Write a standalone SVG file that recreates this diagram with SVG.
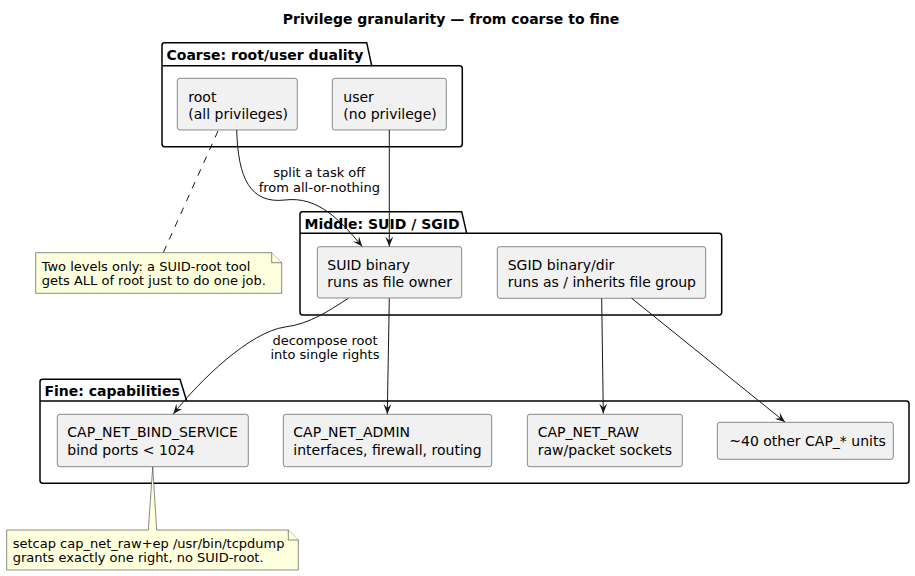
<svg xmlns="http://www.w3.org/2000/svg" width="915" height="576" viewBox="0 0 915 576">
<defs>
<style>
text{font-family:"DejaVu Sans","Liberation Sans",sans-serif;fill:#000}
.title{font-size:14px;font-weight:bold}
.pkg{fill:none;stroke:#000;stroke-width:1.5}
.pkgt{font-size:14px;font-weight:bold}
.node{fill:#F1F1F1;stroke:#181818;stroke-width:0.5}
.nt{font-size:14px}
.note{fill:#FEFFDD;stroke:#181818;stroke-width:0.5}
.ntx{font-size:13px}
.lbl{font-size:13px;text-anchor:middle}
.edge{fill:none;stroke:#181818;stroke-width:1}
</style>
<marker id="ah" viewBox="0 0 10 8" refX="10" refY="4" markerWidth="10" markerHeight="8" markerUnits="userSpaceOnUse" orient="auto">
<path d="M0,0 L10,4 L0,8 L4,4 Z" fill="#181818"/>
</marker>
</defs>
<rect width="915" height="576" fill="#fff"/>
<text class="title" x="451" y="24" text-anchor="middle">Privilege granularity — from coarse to fine</text>

<g id="pkg-coarse">
<path class="pkg" d="M164.5,42.7 L366.7,42.7 L371.7,65.7 L459.5,65.7 Q462.3,65.7 462.3,68.5 L462.3,144 Q462.3,146.7 459.5,146.7 L164.7,146.7 Q162,146.7 162,144 L162,45.2 Q162,42.7 164.5,42.7 Z"/>
<line class="pkg" x1="162" y1="65.7" x2="371.7" y2="65.7"/>
<text class="pkgt" x="166.5" y="59.5">Coarse: root/user duality</text>
</g>
<g id="pkg-middle">
<path class="pkg" d="M302.5,211.7 L461.7,211.7 L466.7,233.3 L719,233.3 Q721.7,233.3 721.7,236 L721.7,312.3 Q721.7,315 719,315 L302.7,315 Q300,315 300,312.3 L300,214.2 Q300,211.7 302.5,211.7 Z"/>
<line class="pkg" x1="300" y1="233.3" x2="466.7" y2="233.3"/>
<text class="pkgt" x="304.5" y="228.5">Middle: SUID / SGID</text>
</g>
<g id="pkg-fine">
<path class="pkg" d="M42.5,379.3 L180,379.3 L186.7,401 L906.3,401 Q909,401 909,403.7 L909,480.6 Q909,483.3 906.3,483.3 L42.7,483.3 Q40,483.3 40,480.6 L40,381.8 Q40,379.3 42.5,379.3 Z"/>
<line class="pkg" x1="40" y1="401" x2="186.7" y2="401"/>
<text class="pkgt" x="44.5" y="396.2">Fine: capabilities</text>
</g>

<g id="root">
<rect class="node" x="177.3" y="78.3" width="120" height="51.7" rx="2.5"/>
<text class="nt" x="188.3" y="101.5">root</text>
<text class="nt" x="188.3" y="118.5">(all privileges)</text>
</g>
<g id="user">
<rect class="node" x="332.3" y="78.3" width="114" height="51.7" rx="2.5"/>
<text class="nt" x="343.3" y="101.5">user</text>
<text class="nt" x="343.3" y="118.5">(no privilege)</text>
</g>
<g id="suid">
<rect class="node" x="317.3" y="246.7" width="144.4" height="51.3" rx="2.5"/>
<text class="nt" x="327.3" y="270">SUID binary</text>
<text class="nt" x="327.3" y="287">runs as file owner</text>
</g>
<g id="sgid">
<rect class="node" x="497.3" y="246.7" width="208.4" height="51.6" rx="2.5"/>
<text class="nt" x="507.7" y="270">SGID binary/dir</text>
<text class="nt" x="507.7" y="287">runs as / inherits file group</text>
</g>
<g id="cap-bind">
<rect class="node" x="57.3" y="414.3" width="191" height="52.4" rx="2.5"/>
<text class="nt" x="67.3" y="437">CAP_NET_BIND_SERVICE</text>
<text class="nt" x="67.3" y="454.5">bind ports &lt; 1024</text>
</g>
<g id="cap-admin">
<rect class="node" x="283.3" y="414.3" width="208.4" height="52.4" rx="2.5"/>
<text class="nt" x="293.3" y="437">CAP_NET_ADMIN</text>
<text class="nt" x="293.3" y="454.5">interfaces, firewall, routing</text>
</g>
<g id="cap-raw">
<rect class="node" x="527.3" y="414.3" width="155" height="52.4" rx="2.5"/>
<text class="nt" x="537.7" y="437">CAP_NET_RAW</text>
<text class="nt" x="537.7" y="454.5">raw/packet sockets</text>
</g>
<g id="cap-other">
<rect class="node" x="717.3" y="422.3" width="176" height="37" rx="2.5"/>
<text class="nt" x="729.3" y="446">~40 other CAP_* units</text>
</g>

<g id="note-coarse">
<path class="note" d="M35.7,252.7 L271.7,252.7 L281.7,262.7 L281.7,293.3 L35.7,293.3 Z"/>
<path class="note" d="M271.7,252.7 L271.7,262.7 L281.7,262.7"/>
<text class="ntx" x="41.7" y="270.5">Two levels only: a SUID-root tool</text>
<text class="ntx" x="41.7" y="285">gets ALL of root just to do one job.</text>
</g>
<g id="note-fine">
<path class="note" d="M6.7,530 L148.3,530 L152.7,467 L156.7,530 L288.3,530 L298.3,540 L298.3,570 L6.7,570 Z"/>
<path class="note" d="M288.3,530 L288.3,540 L298.3,540"/>
<text class="ntx" x="12.7" y="547.5">setcap cap_net_raw+ep /usr/bin/tcpdump</text>
<text class="ntx" x="12.7" y="562">grants exactly one right, no SUID-root.</text>
</g>

<g id="connectors">
<path class="edge" d="M218,131 L163.3,252.7" stroke-dasharray="7,7"/>
<path class="edge" d="M236.7,130 C238,178 250,204 285,200 C318,196 340,220 362.3,246.5" marker-end="url(#ah)"/>
<text class="lbl" x="319.3" y="177">split a task off</text>
<text class="lbl" x="319.3" y="191.5">from all-or-nothing</text>
<path class="edge" d="M389.3,130 L389.3,246.5" marker-end="url(#ah)"/>
<path class="edge" d="M348.3,298.3 C330,310 310,324 285,327 C250,332 200,380 173.3,414" marker-end="url(#ah)"/>
<text class="lbl" x="325" y="345">decompose root</text>
<text class="lbl" x="325" y="359">into single rights</text>
<path class="edge" d="M389.3,298.3 L387.3,414" marker-end="url(#ah)"/>
<path class="edge" d="M601.7,298.3 L603.3,413.5" marker-end="url(#ah)"/>
<path class="edge" d="M631.7,298.3 L785,422" marker-end="url(#ah)"/>
</g>
</svg>
